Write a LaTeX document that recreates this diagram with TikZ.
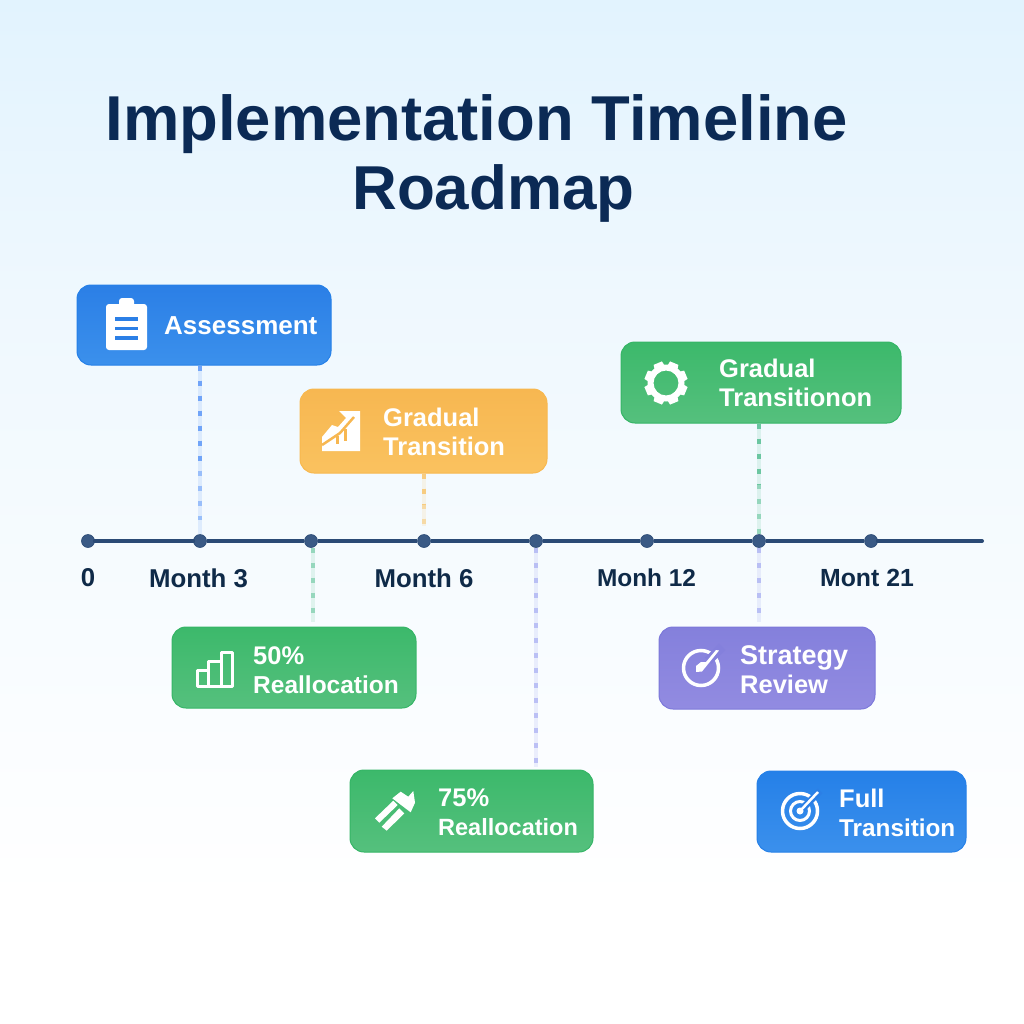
\documentclass[tikz,border=0pt]{standalone}
\usepackage{fontspec}
\setmainfont{Liberation Sans}
\usetikzlibrary{calc}
\definecolor{bgtop}{HTML}{E2F3FE}
\definecolor{bgmid}{HTML}{EFF8FE}
\definecolor{titlec}{HTML}{0B2A55}
\definecolor{axisc}{HTML}{2A4A75}
\definecolor{dotc}{HTML}{3A5A85}
\definecolor{labelc}{HTML}{0F2A48}
\definecolor{blueA}{HTML}{2B7FE6}\definecolor{blueB}{HTML}{3B90EC}\definecolor{blueE}{HTML}{2580E8}
\definecolor{orgA}{HTML}{F7B751}\definecolor{orgB}{HTML}{FAC25F}\definecolor{orgE}{HTML}{F8B84E}
\definecolor{grnA}{HTML}{3CB96B}\definecolor{grnB}{HTML}{55C07D}\definecolor{grnE}{HTML}{35B566}
\definecolor{purA}{HTML}{8480DC}\definecolor{purB}{HTML}{928BE1}\definecolor{purE}{HTML}{7C78DA}
\definecolor{dashB}{HTML}{3B82F6}\definecolor{dashO}{HTML}{F9B94D}\definecolor{dashG}{HTML}{34B27B}\definecolor{dashP}{HTML}{7B82EC}
\tikzset{
  x=1pt,y=-1pt,
  card/.style n args={3}{draw=#3,line width=1pt,rounded corners=14pt,top color=#1,bottom color=#2,inner sep=0pt},
  cardtext/.style={text=white,font=\fontsize{25.5}{29}\selectfont\bfseries,align=left,anchor=west,inner sep=0pt},
  tickdot/.style={circle,fill=dotc,draw=axisc,line width=.6pt,minimum size=13pt,inner sep=0pt},
  ticklabel/.style={text=labelc,font=\fontsize{25.8}{29}\selectfont\bfseries,inner sep=0pt},
  titletext/.style={text=titlec,font=\fontsize{63.4}{70}\selectfont\bfseries,inner sep=0pt},
  lane/.style={line width=4pt,draw=#1,opacity=.12},
  dashline/.style={line width=4pt,draw=#1,dash pattern=on 5pt off 10pt,opacity=.42},
}
\begin{document}
\begin{tikzpicture}
\useasboundingbox (0,0) rectangle (1024,1024);
% background
\fill[white] (0,0) rectangle (1024,1024);
\shade[top color=bgtop,bottom color=bgmid] (0,0) rectangle (1024,300);
\shade[top color=bgmid,bottom color=white] (0,299.5) rectangle (1024,900);
% title
\node[titletext] (title1) at (476.5,124) {Implementation Timeline};
\node[titletext,font=\fontsize{62}{70}\selectfont\bfseries] (title2) at (493.5,193) {Roadmap};
% axis ticks
\coordinate (axisend) at (982,541);
\foreach \n/\x in {t0/88,t3/200,t4/311,t6/424,t8/536,t12/647,t15/759,t21/871}
  \node[tickdot] (\n) at (\x,541) {};
\draw[axisc,line width=4pt,line cap=round] (t0) -- (t3);
\draw[axisc,line width=4pt] (t3) -- (t4);
\draw[axisc,line width=4pt] (t4) -- (t6);
\draw[axisc,line width=4pt] (t6) -- (t8);
\draw[axisc,line width=4pt] (t8) -- (t12);
\draw[axisc,line width=4pt] (t12) -- (t15);
\draw[axisc,line width=4pt] (t15) -- (t21);
\draw[axisc,line width=4pt,line cap=round] (t21) -- (axisend);
% tick labels
\node[ticklabel] (l0) at (88,578) {0};
\node[ticklabel] (l3) at (198.5,578) {Month 3};
\node[ticklabel] (l6) at (424,578) {Month 6};
\node[ticklabel,font=\fontsize{24.4}{29}\selectfont\bfseries] (l12) at (646.5,578) {Monh 12};
\node[ticklabel,font=\fontsize{24.8}{29}\selectfont\bfseries] (l21) at (867,578) {Mont 21};
% cards
\node[card={blueA}{blueB}{blueE},minimum width=254pt,minimum height=80pt] (assess) at (204,325) {};
\node[card={orgA}{orgB}{orgE},minimum width=247pt,minimum height=84pt] (grad) at (423.5,431) {};
\node[card={grnA}{grnB}{grnE},minimum width=280pt,minimum height=81pt] (gradg) at (761,382.5) {};
\node[card={grnA}{grnB}{grnE},minimum width=244pt,minimum height=81pt] (fifty) at (294,667.5) {};
\node[card={grnA}{grnB}{grnE},minimum width=243pt,minimum height=82pt] (seventy) at (471.5,811) {};
\node[card={purA}{purB}{purE},minimum width=216pt,minimum height=82pt] (review) at (767,668) {};
\node[card={blueE}{blueB}{blueE},minimum width=209pt,minimum height=81pt] (full) at (861.5,811.5) {};
% connectors
\draw[lane=dashB] (t3 |- assess.south) -- (t3);
\draw[dashline=dashB,shorten >=14pt] (t3 |- assess.south) -- (t3);
\draw[dashline=dashB,shorten >=70pt] (t3 |- assess.south) -- (t3);
\draw[lane=dashO,shorten >=8pt] (t6 |- grad.south) -- (t6);
\draw[dashline=dashO,shorten >=8pt] (t6 |- grad.south) -- (t6);
\draw[dashline=dashO,shorten >=30pt] (t6 |- grad.south) -- (t6);
\draw[lane=dashG] (t15 |- gradg.south) -- (t15);
\draw[dashline=dashG] (t15 |- gradg.south) -- (t15);
\draw[dashline=dashG,shorten >=50pt] (t15 |- gradg.south) -- (t15);
\draw[lane=dashG,shorten >=5pt] ([xshift=2pt]t4.south) -- ([xshift=2pt]t4 |- fifty.north);
\draw[dashline=dashG,shorten >=5pt] ([xshift=2pt]t4.south) -- ([xshift=2pt]t4 |- fifty.north);
\draw[lane=dashP,shorten >=3pt] (t8) -- (t8 |- seventy.north);
\draw[dashline=dashP,shorten >=3pt] (t8) -- (t8 |- seventy.north);
\draw[lane=dashP,shorten >=5pt] (t15) -- (t15 |- review.north);
\draw[dashline=dashP,shorten >=5pt] (t15) -- (t15 |- review.north);
% card texts
\node[cardtext] (assessT) at (164,326) {\fontsize{26}{29}\selectfont Assessment};
\node[cardtext] (gradT) at (383,431.5) {Gradual\\Transition};
\node[cardtext] (gradgT) at (719,382.5) {Gradual\\Transitionon};
\node[cardtext] (fiftyT) at (253,670.5) {50\%\\{\fontsize{24.5}{29}\selectfont Reallocation}};
\node[cardtext] (seventyT) at (438,812.5) {75\%\\{\fontsize{23.5}{29}\selectfont Reallocation}};
\node[cardtext] (reviewT) at (740,669.5) {{\fontsize{27}{29}\selectfont Strategy}\\Review};
\node[cardtext] (fullT) at (839,812.5) {Full\\{\fontsize{24.3}{29}\selectfont Transition}};
% clipboard icon
\fill[white,rounded corners=3pt] (106,304) rectangle (147,350);
\fill[white,rounded corners=3pt] (119,298) rectangle (134,308);
\fill[blueA] (115,317) rectangle (138,320.5);
\fill[blueA] (115,326.5) rectangle (138,330);
\fill[blueA] (115,336) rectangle (138,339.5);
% stairs icon
\fill[white] (322,451) -- (360,451) -- (360,411) -- (339,411) -- (346,418) -- (338,427) -- (332,425) -- (322,437) -- cycle;
\draw[orgA,line width=2.5pt] (322,445) -- (340,433) -- (354,417);
\fill[orgA] (336,436) rectangle (338.5,444);
\fill[orgA] (344,429) rectangle (346.5,441);
% gear icon
\foreach \a in {0,45,...,315}
  \fill[white,rotate around={\a+22.5:(666,383)}] (660,370) -- (661.5,361.5) -- (670.5,361.5) -- (672,370) -- cycle;
\fill[white,even odd rule] (666,383) circle[radius=18.5pt] (666,383) circle[radius=12.5pt];
% bars icon
\draw[white,line width=3pt,line join=round] (197.5,670.5) rectangle (208.5,686.5);
\draw[white,line width=3pt,line join=round] (208.5,661) rectangle (221,686.5);
\draw[white,line width=3pt,line join=round] (221,652.5) rectangle (232.5,686.5);
% dropper icon
\fill[white] (375,818.3) -- (379.3,822.7) -- (397.7,805) -- (393.3,800.7) -- cycle;
\fill[white] (381.7,826.7) -- (386.7,830.7) -- (404.3,813.3) -- (399.3,808.3) -- cycle;
\fill[white] (392.3,798.3) -- (400.7,791.7) -- (408.3,796.7) -- (413.3,791) -- (415,802.7) -- (410.7,812.3) -- (405,808) -- cycle;
% gauge icon
\draw[white,line width=3.5pt] (701,668) circle[radius=17.5pt];
\draw[purA,line width=9pt] (708,661) -- (722,647);
\fill[white] (719,650.5) -- (702,671.5) -- (696,672) -- (696,666) -- (701,662) -- (706,662) -- (716,650) -- cycle;
% target icon
\draw[white,line width=3.5pt] (800,811) circle[radius=17.5pt];
\draw[white,line width=3pt] (800,811) circle[radius=9.5pt];
\draw[blueA,line width=7pt] (802,809) -- (820,791);
\fill[white] (800,811) circle[radius=3.5pt];
\draw[white,line width=2.5pt] (800,811) -- (818,792);
\end{tikzpicture}
\end{document}
